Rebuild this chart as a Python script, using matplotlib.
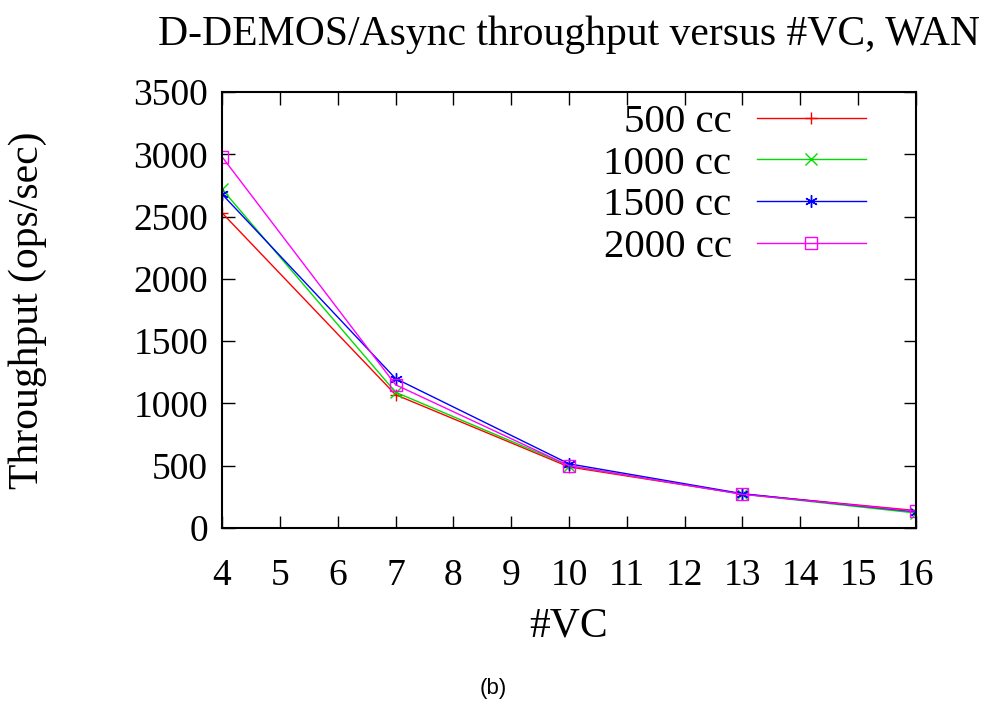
import matplotlib
matplotlib.use("Agg")
import matplotlib.pyplot as plt

plt.rcParams['font.family'] = ['Liberation Serif', 'DejaVu Serif']

# data
vc = [4, 7, 10, 13, 16]
labels = ['500 cc', '1000 cc', '1500 cc', '2000 cc']
tp_500 = [2530, 1070, 490, 272, 140]
tp_1000 = [2720, 1090, 500, 272, 120]
tp_1500 = [2680, 1200, 515, 275, 130]
tp_2000 = [2980, 1150, 500, 270, 135]
series = [tp_500, tp_1000, tp_1500, tp_2000]
colors = ['#ff0000', '#00dd00', '#0000ff', '#ff00ff']
markers = ['+', 'x', (6, 2, 0), 's']

fig = plt.figure(figsize=(9.87, 7.03), dpi=100)
ax = fig.add_axes([0.225, 0.249, 0.703, 0.620])

for ys, lab, c, m in zip(series, labels, colors, markers):
    if m == 's':
        ax.plot(vc, ys, color=c, lw=1, marker=m, ms=8, mfc='none', mec=c, mew=1, label=lab)
    else:
        ax.plot(vc, ys, color=c, lw=1, marker=m, ms=9, mew=1, label=lab)

ax.set_xlim(4, 16)
ax.set_ylim(0, 3500)
ax.set_xticks(range(4, 17))
ax.set_yticks(range(0, 3501, 500))
ax.tick_params(direction='in', length=9, width=1, top=True, right=True, labelsize=27)
ax.tick_params(axis='x', pad=22)
ax.tick_params(axis='y', pad=10)
for s in ax.spines.values():
    s.set_linewidth(1.5)

ax.set_xlabel('#VC', fontsize=30, labelpad=10)
ax.set_ylabel('Throughput (ops/sec)', fontsize=30, labelpad=62)
ax.set_title('D-DEMOS/Async throughput versus #VC, WAN', fontsize=30, pad=34)

leg = ax.legend(loc='upper right', markerfirst=False, frameon=False, fontsize=29.5,
                handlelength=2.64, handletextpad=0.63, labelspacing=0.1,
                borderaxespad=0, bbox_to_anchor=(0.951, 1.012))
for t in leg.get_texts():
    t.set_ha('right')
leg._legend_box.align = 'right'

fig.text(0.5, 0.021, '(b)', fontsize=16, ha='center', va='center', family='Liberation Sans')

fig.savefig('out.png', dpi=100)
